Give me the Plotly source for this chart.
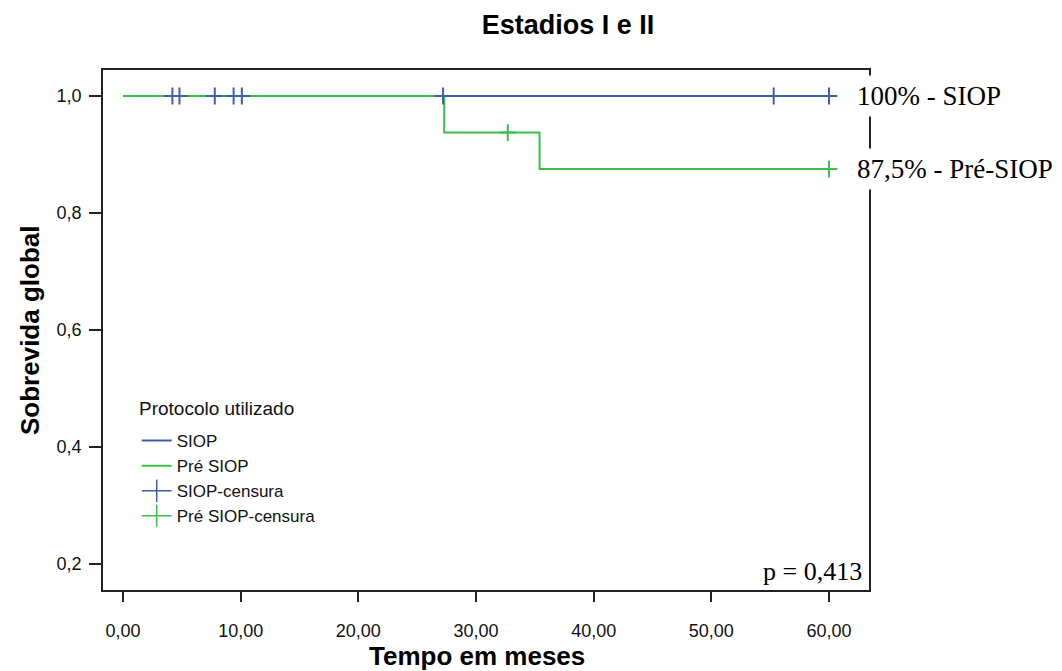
import plotly.graph_objects as go

# ---- data ----
siop_times = [0.0, 60.0]
siop_surv = [1.0, 1.0]
siop_censor_times = [4.2, 4.8, 7.8, 9.4, 10.1, 27.2, 55.3, 60.0]
siop_censor_surv = [1.0, 1.0, 1.0, 1.0, 1.0, 1.0, 1.0, 1.0]

pre_times = [0.0, 27.3, 35.4, 60.0]
pre_surv = [1.0, 0.9375, 0.875, 0.875]
pre_censor_times = [32.7, 60.0]
pre_censor_surv = [0.9375, 0.875]

x_ticks = [0, 10, 20, 30, 40, 50, 60]
y_ticks = [0.2, 0.4, 0.6, 0.8, 1.0]

BLUE = "#3F5DB0"
GREEN = "#3DBE4A"

fig = go.Figure()

fig.add_trace(go.Scatter(x=siop_times, y=siop_surv, mode="lines", line_shape="hv",
                         line=dict(color=BLUE, width=2), name="SIOP"))
fig.add_trace(go.Scatter(x=pre_times, y=pre_surv, mode="lines", line_shape="hv",
                         line=dict(color=GREEN, width=2), name="Pré SIOP"))
fig.add_trace(go.Scatter(x=siop_censor_times, y=siop_censor_surv, mode="markers",
                         marker=dict(symbol="cross-thin-open", size=12, color=BLUE,
                                     line=dict(color=BLUE, width=2)),
                         name="SIOP-censura", showlegend=False))
fig.add_trace(go.Scatter(x=pre_censor_times, y=pre_censor_surv, mode="markers",
                         marker=dict(symbol="cross-thin-open", size=12, color=GREEN,
                                     line=dict(color=GREEN, width=2)),
                         name="Pré SIOP-censura", showlegend=False))
# legend-only entries for censoring marks
fig.add_trace(go.Scatter(x=[None], y=[None], mode="lines+markers",
                         line=dict(color=BLUE, width=1.5),
                         marker=dict(symbol="line-ns-open", size=16, color=BLUE,
                                     line=dict(color=BLUE, width=1.5)),
                         name="SIOP-censura"))
fig.add_trace(go.Scatter(x=[None], y=[None], mode="lines+markers",
                         line=dict(color=GREEN, width=1.5),
                         marker=dict(symbol="line-ns-open", size=16, color=GREEN,
                                     line=dict(color=GREEN, width=1.5)),
                         name="Pré SIOP-censura"))

fig.update_layout(
    width=1062, height=671,
    margin=dict(l=103, r=193, t=70, b=81),
    paper_bgcolor="white", plot_bgcolor="white",
    separators=", ",
    font=dict(family="Arial, Liberation Sans, sans-serif", color="#111"),
    title=dict(text="<b>Estadios I e II</b>", x=568/1062, xanchor="center",
               y=1-25/671, yanchor="middle", font=dict(size=27, color="#000")),
    showlegend=True,
    legend=dict(x=0.044, y=(590-423)/520, xanchor="left", yanchor="top",
                bgcolor="rgba(0,0,0,0)",
                font=dict(size=17, color="#111"), itemwidth=30),
)

fig.update_xaxes(range=[-1.7, 63.4], tickvals=x_ticks, tickformat=".2f",
                 automargin=False,
                 showgrid=False, zeroline=False,
                 showline=True, linecolor="#222", linewidth=1.5, mirror=True,
                 ticks="outside", ticklen=10, tickcolor="#222", tickwidth=1.5,
                 ticklabelstandoff=14,
                 tickfont=dict(size=18, color="#111"))
fig.update_yaxes(range=[0.1556, 1.0444], tickvals=y_ticks, tickformat=".1f",
                 automargin=False,
                 showgrid=False, zeroline=False,
                 showline=True, linecolor="#222", linewidth=1.5, mirror=True,
                 ticks="outside", ticklen=12, tickcolor="#222", tickwidth=1.5,
                 ticklabelstandoff=4,
                 tickfont=dict(size=18, color="#111"))

# axis titles and legend title
fig.add_annotation(x=(477-103)/766, xref="paper", y=-(656-590)/520, yref="paper",
                   text="<b>Tempo em meses</b>", showarrow=False,
                   xanchor="center", yanchor="middle",
                   font=dict(size=26, color="#000"))
fig.add_annotation(x=-(103-30)/766, xref="paper", y=(590-330)/520, yref="paper",
                   text="<b>Sobrevida global</b>", showarrow=False, textangle=-90,
                   xanchor="center", yanchor="middle",
                   font=dict(size=26, color="#000"))
fig.add_annotation(x=(137-103)/766, xref="paper", y=(590-408)/520, yref="paper",
                   text="Protocolo utilizado", showarrow=False,
                   xanchor="left", yanchor="middle",
                   font=dict(size=19, color="#111"))

SERIF = "Liberation Serif, Times New Roman, serif"
fig.add_annotation(x=1.0, xref="paper", y=siop_surv[-1], yref="y",
                   text="100% - SIOP", showarrow=False, xanchor="left", xshift=-18,
                   font=dict(family=SERIF, size=27, color="#000"),
                   bgcolor="white", borderpad=5)
fig.add_annotation(x=1.0, xref="paper", y=pre_surv[-1], yref="y",
                   text="87,5% - Pré-SIOP", showarrow=False, xanchor="left", xshift=-18,
                   font=dict(family=SERIF, size=27, color="#000"),
                   bgcolor="white", borderpad=5)
fig.add_annotation(x=1.0, xref="paper", y=0.0, yref="paper",
                   text="p = 0,413", showarrow=False, xanchor="right", yanchor="bottom",
                   xshift=-5, yshift=2,
                   font=dict(family=SERIF, size=26, color="#000"))

fig.write_html("out.html")
